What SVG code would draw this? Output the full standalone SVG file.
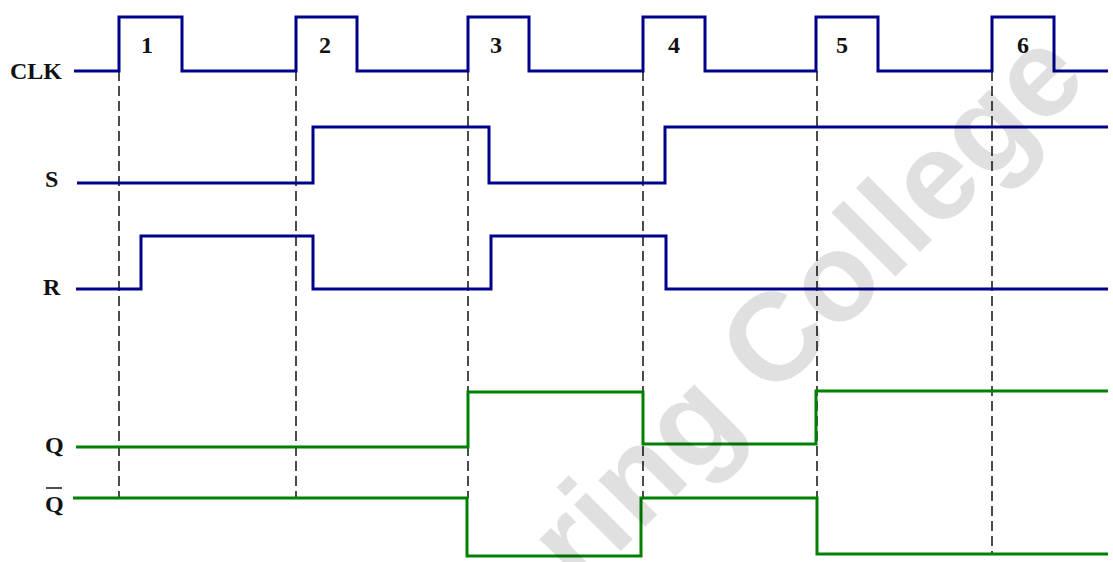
<svg xmlns="http://www.w3.org/2000/svg" width="1113" height="562" viewBox="0 0 1113 562">
<style>
.lbl{font-family:"Liberation Serif","Times New Roman",serif;font-weight:bold;font-size:24px;fill:#111}
.num{font-family:"Liberation Serif","Times New Roman",serif;font-weight:bold;font-size:24px;fill:#111;text-anchor:middle}
.blue{fill:none;stroke:#00008B;stroke-width:3;stroke-linejoin:miter}
.green{fill:none;stroke:#008000;stroke-width:3;stroke-linejoin:miter}
.dash{fill:none;stroke:#111;stroke-width:1.5;stroke-dasharray:10,5}
.wm{font-family:"Liberation Sans",Arial,sans-serif;font-weight:bold;font-size:125px;fill:#000;fill-opacity:0.12}
</style>
<rect width="1113" height="562" fill="#fff"/>
<g id="labels">
<text class="lbl" x="10" y="79">CLK</text>
<text class="lbl" x="45" y="187">S</text>
<text class="lbl" x="43" y="295">R</text>
<text class="lbl" x="45" y="453">Q</text>
<text class="lbl" x="45" y="512">Q</text>
<line x1="46" y1="488" x2="62" y2="488" stroke="#111" stroke-width="1.5"/>
</g>
<g id="pulse-numbers">
<text class="num" x="147" y="53">1</text>
<text class="num" x="325" y="53">2</text>
<text class="num" x="496" y="53">3</text>
<text class="num" x="674" y="53">4</text>
<text class="num" x="842" y="53">5</text>
<text class="num" x="1023" y="53">6</text>
</g>
<g id="connectors">
<path class="dash" d="M119,71V498M296,71V498M468,71V498M643,71V498M817,71V498M992,71V554"/>
</g>
<g id="clk">
<path class="blue" d="M74,71H119V17H182V71H296V17H357V71H468V17H529V71H643V17H705V71H816V17H878V71H992V17H1054V71H1108"/>
</g>
<g id="s">
<path class="blue" d="M77,183H313V127H489V183H665V127H1108"/>
</g>
<g id="r">
<path class="blue" d="M76,289H141V236H313V289H491V236H666V289H1108"/>
</g>
<g id="q">
<path class="green" d="M76,447H468V392H643V444H816V391H1108"/>
</g>
<g id="qbar">
<path class="green" d="M73,498H467V556H641V498H817V554H1108"/>
</g>
<g id="watermark">
<text class="wm" transform="translate(580,592) rotate(-45)">ring College</text>
</g>
</svg>
